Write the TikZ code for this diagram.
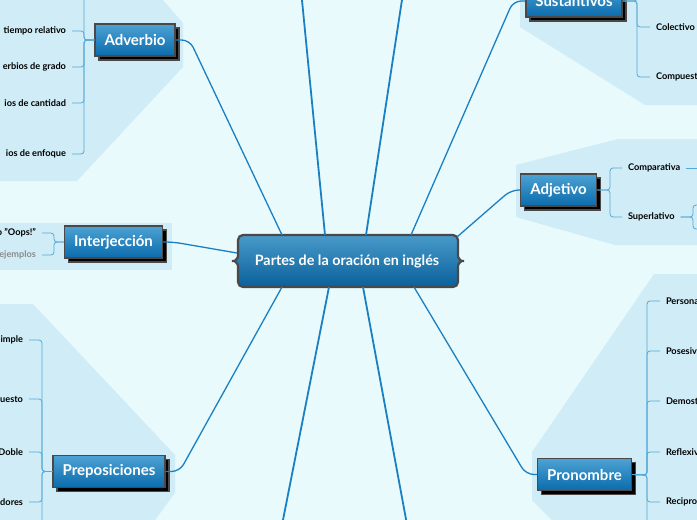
\documentclass[tikz,border=0pt]{standalone}
\usepackage{fontspec}
\setmainfont{Lato}
\usetikzlibrary{shadows}
\definecolor{bgcyan}{HTML}{E8FAFC}
\definecolor{panelblue}{HTML}{D0ECF6}
\definecolor{branchblue}{HTML}{1A80C2}
\definecolor{twigblue}{HTML}{55A9D6}
\definecolor{boxtop}{HTML}{4CA2D3}
\definecolor{boxbottom}{HTML}{0B6BAC}
\definecolor{boxedge}{HTML}{4A4849}
\definecolor{hintgray}{HTML}{8C8C8C}

\begin{document}
\begin{tikzpicture}[x=1pt, y=-1pt,
  topic/.style={draw=boxedge, line width=1.4pt, top color=boxtop, bottom color=boxbottom,
    text=white, font=\bfseries\fontsize{15}{18}\selectfont, minimum height=32pt, inner xsep=9.5pt,
    copy shadow={shadow xshift=4pt, shadow yshift=-4pt}},
  leaf/.style={font=\bfseries\fontsize{9.2}{11}\selectfont, inner sep=1pt, outer xsep=5pt},
  branch/.style={draw=branchblue, line width=1.3pt, rounded corners=8pt},
  offbranch/.style={draw=branchblue, line width=1.8pt},
  twig/.style={draw=twigblue, line width=0.8pt, rounded corners=3pt}]
  \useasboundingbox (0,0) rectangle (697,520);
  \clip (0,0) rectangle (697,520);
  \fill[bgcyan] (0,0) rectangle (697,520);

  % panels behind each topic
  \fill[panelblue] (0,0) -- (163,0) -- (183,23) -- (183,67) -- (77,181) -- (0,181) -- cycle;
  \fill[panelblue] (0,223) rectangle (172,270);
  \fill[panelblue] (0,304) -- (33,304) -- (175,455) -- (175,493) -- (155,520) -- (0,520) -- cycle;
  \fill[panelblue] (520,0) -- (520,27) -- (645,105) -- (697,105) -- (697,0) -- cycle;
  \fill[panelblue] (516,165) -- (618,139) -- (697,139) -- (697,245) -- (615,245) -- (516,217) -- cycle;
  \fill[panelblue] (532,452) -- (654,274) -- (697,274) -- (697,520) -- (552,520) -- (532,500) -- cycle;

  % central topic with brace sides
  \shadedraw[top color=boxtop!95!black, bottom color=boxbottom!90!black, draw=boxedge, line width=2.2pt, rounded corners=5pt]
    (348,235) -- (458,235) -- (458,251) .. controls (458,258) and (461,261) .. (467,261)
    .. controls (461,261) and (458,264) .. (458,271) -- (458,287) -- (238,287) -- (238,271)
    .. controls (238,264) and (235,261) .. (229,261) .. controls (235,261) and (238,258) .. (238,251)
    -- (238,235) -- cycle;
  \node[minimum width=220pt, minimum height=52pt, outer sep=0pt, text=white,
    font=\bfseries\fontsize{14.3}{17}\selectfont] (root) at (347,261) {Partes de la oración en inglés};

  % main topics
  \node[topic] (adverbio) at (135,40) {Adverbio};
  \node[topic] (interj) at (113.5,242) {Interjección};
  \node[topic] (prepos) at (109,471.5) {Preposiciones};
  \node[topic] (sustant) at (574,1) {Sustantivos};
  \node[topic] (adjetivo) at (558.5,190) {Adjetivo};
  \node[topic] (pronombre) at (584.5,474.5) {Pronombre};

  % branches from the centre
  \coordinate (up1) at (301,-10);
  \coordinate (up2) at (403.5,-10);
  \coordinate (down1) at (281,530);
  \coordinate (down2) at (408,530);
  \draw[branch] ([xshift=45pt]root.north west) -- ([xshift=14pt]adverbio.east) -- (adverbio.east);
  \draw[branch] ([yshift=8pt]root.west) -- ([xshift=10pt]interj.east) -- (interj.east);
  \draw[branch] ([xshift=45pt]root.south west) -- ([xshift=14pt]prepos.east) -- (prepos.east);
  \draw[branch] ([xshift=-46pt]root.north east) -- ([xshift=-12pt]sustant.west) -- (sustant.west);
  \draw[branch] ([yshift=-2pt]root.north east) -- ([xshift=-9pt]adjetivo.west) -- (adjetivo.west);
  \draw[branch] ([xshift=-43pt]root.south east) -- ([xshift=-11pt]pronombre.west) -- (pronombre.west);
  \draw[offbranch] ([xshift=88pt]root.north west) -- (up1);
  \draw[offbranch] ([xshift=129pt]root.north west) -- (up2);
  \draw[offbranch] ([xshift=92pt]root.south west) -- (down1);
  \draw[offbranch] ([xshift=126pt]root.south west) -- (down2);

  % Adverbio
  \coordinate (advfork) at (84,40);
  \coordinate (adv0) at (72,-20);
  \node[leaf, anchor=east] (adv1) at (72,31) {tiempo relativo};
  \node[leaf, anchor=east] (adv2) at (72,67) {erbios de grado};
  \node[leaf, anchor=east] (adv3) at (72,103) {ios de cantidad};
  \node[leaf, anchor=east] (adv4) at (72,154) {ios de enfoque};
  \foreach \n in {adv0,adv1,adv2,adv3,adv4}
    \draw[twig] (adverbio.west) -- (advfork) |- (\n.east);

  % Interjección
  \coordinate (intfork) at (54,242);
  \node[leaf, anchor=east] (int1) at (42,233) {o "Oops!"};
  \node[leaf, anchor=east, text=hintgray] (int2) at (42,255) {ejemplos};
  \foreach \n in {int1,int2}
    \draw[twig] (interj.west) -- (intfork) |- (\n.east);

  % Preposiciones
  \coordinate (prefork) at (42,471.5);
  \coordinate (pre5) at (29,560);
  \node[leaf, anchor=east] (pre1) at (29,340) {imple};
  \node[leaf, anchor=east] (pre2) at (29,399) {uesto};
  \node[leaf, anchor=east] (pre3) at (29,452) {Doble};
  \node[leaf, anchor=east] (pre4) at (29,502) {dores};
  \foreach \n in {pre1,pre2,pre3,pre4}
    \draw[twig] (prepos.west) -- (prefork) |- (\n.east);
  \draw[twig] (prepos.west) -- (prefork) |- (pre5);

  % Sustantivos
  \coordinate (susfork) at (637,1);
  \coordinate (sus0) at (650,-24);
  \node[leaf, anchor=west] (sus1) at (650,27) {Colectivo};
  \node[leaf, anchor=west] (sus2) at (650,77) {Compuest};
  \draw[twig] (sustant.east) -- (susfork) |- (sus0);
  \foreach \n in {sus1,sus2}
    \draw[twig] (sustant.east) -- (susfork) |- (\n.west);

  % Adjetivo
  \coordinate (adjfork) at (610,190);
  \node[leaf, anchor=west] (adj1) at (622,168) {Comparativa};
  \node[leaf, anchor=west] (adj2) at (622,217) {Superlativo};
  \foreach \n in {adj1,adj2}
    \draw[twig] (adjetivo.east) -- (adjfork) |- (\n.west);
  \coordinate (compnext) at (710,168);
  \coordinate (supfork) at (693,217);
  \coordinate (supA) at (712,205);
  \coordinate (supB) at (712,229);
  \draw[twig] (adj1.east) -- (compnext);
  \draw[twig] (adj2.east) -- (supfork) |- (supA);
  \draw[twig] (adj2.east) -- (supfork) |- (supB);

  % Pronombre
  \coordinate (profork) at (647,475);
  \coordinate (pro6) at (660,552);
  \node[leaf, anchor=west] (pro1) at (660,301) {Persona};
  \node[leaf, anchor=west] (pro2) at (660,351) {Posesiv};
  \node[leaf, anchor=west] (pro3) at (660,401) {Demost};
  \node[leaf, anchor=west] (pro4) at (660,452) {Reflexiv};
  \node[leaf, anchor=west] (pro5) at (660,502) {Recipro};
  \foreach \n in {pro1,pro2,pro3,pro4,pro5}
    \draw[twig] (pronombre.east) -- (profork) |- (\n.west);
  \draw[twig] (pronombre.east) -- (profork) |- (pro6);
\end{tikzpicture}
\end{document}
